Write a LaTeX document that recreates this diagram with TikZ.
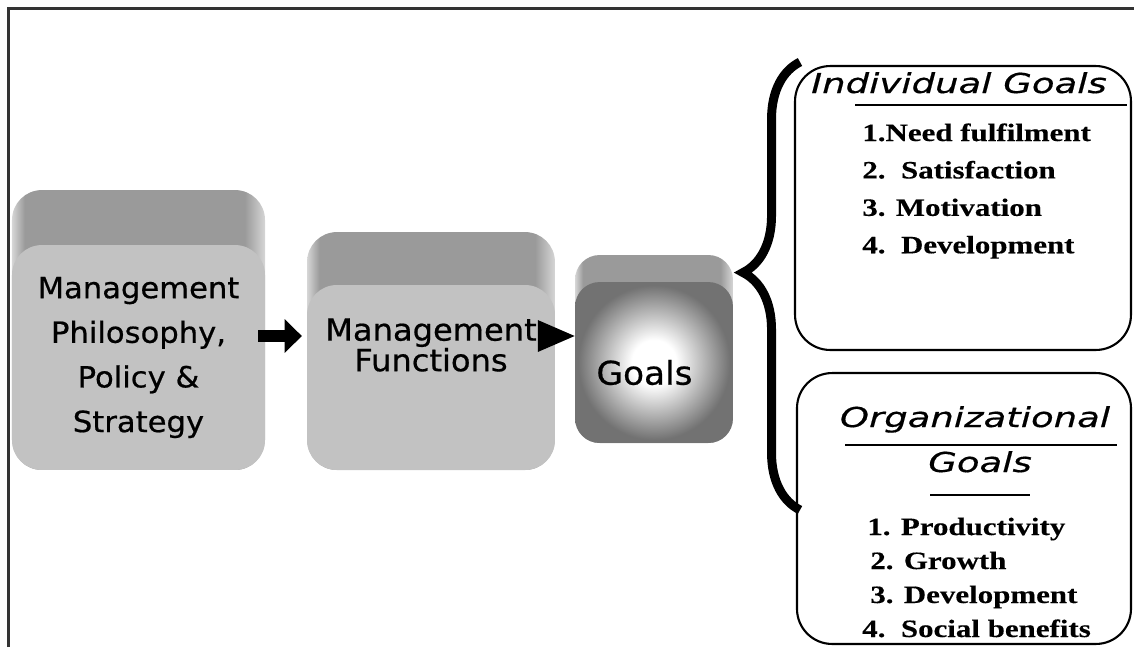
\documentclass[tikz,border=0pt]{standalone}
\usepackage{fontspec}
\setmainfont{Liberation Serif}[FakeStretch=1.24,FakeBold=0.3]
\newfontfamily\boxfont{DejaVu Sans}[FakeStretch=1.05,FakeBold=0.6]
\newfontfamily\titlefont{DejaVu Sans}[FakeStretch=1.35,FakeBold=0.5]
\usepackage{tikz}
\usetikzlibrary{arrows.meta,positioning,calc,decorations.pathreplacing}
\definecolor{faceg}{HTML}{C2C2C2}
\definecolor{backg}{HTML}{9A9A9A}
\definecolor{edgeg}{HTML}{D6D6D6}
\definecolor{goalg}{HTML}{727272}
\definecolor{frameg}{HTML}{333333}
\pgfdeclarehorizontalshading{backshade}{100bp}{color(0bp)=(edgeg); color(25bp)=(edgeg); color(27.5bp)=(backg); color(71bp)=(backg); color(75bp)=(edgeg); color(100bp)=(edgeg)}
\pgfdeclareradialshading{goalshade}{\pgfpoint{0bp}{0bp}}{color(0bp)=(white); color(7bp)=(white); color(24bp)=(goalg); color(50bp)=(goalg)}

\begin{document}
\begin{tikzpicture}
[x=0.02cm,y=-0.02cm]
\tikzstyle{backface}=[shade,shading=backshade,rounded corners=17pt,inner sep=0pt]
\tikzstyle{face}=[fill=faceg,rounded corners=17pt,inner sep=0pt,align=center]
\tikzstyle{boxtext}=[inner sep=0pt,align=center]
\tikzstyle{goalbox}=[draw,line width=1.2pt,rounded corners=20pt,inner sep=0pt]
\tikzstyle{heading}=[font=\titlefont\itshape\fontsize{15.6}{19}\selectfont,inner sep=0pt,anchor=base]
\tikzstyle{item}=[font=\bfseries\fontsize{14.2}{17}\selectfont,inner sep=0pt,text height=10pt,text depth=3pt]
\tikzstyle{uline}=[line width=1.1pt]
\tikzstyle{fatarrow}=[line width=6.8pt,-{Triangle[length=9.7pt,width=19.3pt,line width=0pt]}]
\tikzstyle{headarrow}=[line width=0.8pt,-{Triangle[length=21pt,width=18.2pt,line width=0pt]}]
\tikzstyle{curly}=[line width=5.1pt,decorate,decoration={brace,amplitude=32.4pt,aspect=0.53}]

\useasboundingbox (0,0) rectangle (1134,647);
\draw [line width=1.5pt,frameg] (8.5,647) -- (8.5,8.5) -- (1134,8.5);

% three stacked boxes
\draw node [backface,minimum width=144pt,minimum height=159.3pt] (philoback) at (138.5,330) {};
\draw node [face,minimum width=144pt,minimum height=128pt,font=\boxfont\fontsize{16.6}{25.4}\selectfont] (philo) at (138.5,357.5) {Management\\Philosophy,\\Policy \&\\Strategy};

\draw node [backface,minimum width=141.1pt,minimum height=135.4pt] (funcback) at (431,351) {};
\draw node [face,minimum width=141.1pt,minimum height=105.3pt] (func) at (431,377.5) {};
\draw node [boxtext,font=\boxfont\fontsize{17.4}{17.4}\selectfont] (functext) at ($(func.center)+(0,-32.5)$) {Management\\Functions};

\draw node [backface,rounded corners=14pt,minimum width=89.9pt,minimum height=107pt] (goalsback) at (654,349) {};
\draw node [shade,shading=goalshade,rounded corners=14pt,inner sep=0pt,minimum width=89.9pt,minimum height=91.6pt] (goals) at (654,362.5) {};
\draw node [boxtext,font=\boxfont\fontsize{18.6}{20}\selectfont] (goalstext) at ($(goals.center)+(-9.5,10)$) {Goals};

\coordinate (lvl) at (0,336);
\draw [fatarrow,shorten <=-4pt,shorten >=2.8pt] (philo.east |- lvl) -- (func.west |- lvl);
\draw [headarrow] (func.east |- lvl) -- (goals.west |- lvl);

% brace
\coordinate (bracebot) at (800,510);
\coordinate (bracetop) at (800,62);
\draw [curly] (bracebot) -- (bracetop);

% individual goals
\draw node [goalbox,minimum width=191.2pt,minimum height=161.6pt] (indiv) at (963,208) {};
\draw node [heading] (indivhead) at (959,93) {Individual Goals};
\draw [uline] (855,105) -- (1127,105);
\draw node [item,anchor=base west] (ind1) at (862,141) {1.Need fulfilment};
\draw node [item,below=7.9pt of ind1.south west,anchor=north west] (ind2) {2.~~Satisfaction};
\draw node [item,below=7.9pt of ind2.south west,anchor=north west] (ind3) {3. Motivation};
\draw node [item,below=7.9pt of ind3.south west,anchor=north west] (ind4) {4.~~Development};

% organizational goals
\draw node [goalbox,minimum width=190.1pt,minimum height=154.2pt] (org) at (964,508.5) {};
\draw node [heading] (orghead) at (975,427) {Organizational};
\draw [uline] (845,445) -- (1117,445);
\draw node [heading] (orghead2) at (980,472) {Goals};
\draw [uline] (930,495) -- (1030,495);
\draw node [item,anchor=base west] (org1) at (867,535) {1. Productivity};
\draw node [item,below=5.95pt of org1.south west,anchor=north west,xshift=1.7pt] (org2) {2. Growth};
\draw node [item,below=5.95pt of org2.south west,anchor=north west] (org3) {3. Development};
\draw node [item,below=5.95pt of org3.south west,anchor=north west,xshift=-4.6pt] (org4) {4.~~Social benefits};

\end{tikzpicture}
\end{document}
